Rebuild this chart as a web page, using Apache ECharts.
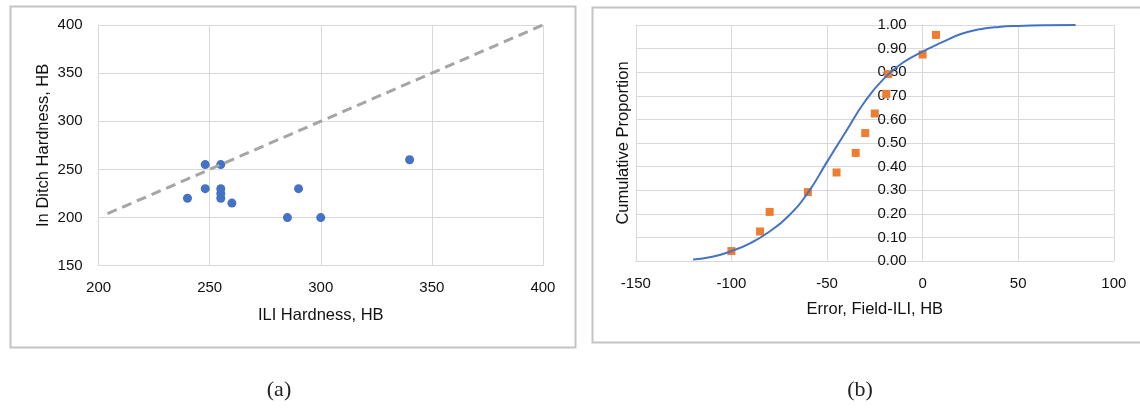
<!DOCTYPE html>
<html>
<head>
<meta charset="utf-8">
<script src="https://cdn.jsdelivr.net/npm/echarts@6/dist/echarts.min.js"></script>
<style>
html,body{margin:0;padding:0;background:#fff;}
#c{width:1140px;height:408px;}
</style>
</head>
<body>
<div id="c"></div>
<script>
// (a) scatter: ILI hardness vs in-ditch hardness
const iliHardness   = [240, 248, 255, 248, 255, 255, 255, 260, 285, 300, 290, 340];
const ditchHardness = [220, 255, 255, 230, 230, 225, 220, 215, 200, 200, 230, 260];
// 1:1 reference line
const refLineX = [204, 400];
const refLineY = [204, 400];
// (b) empirical cumulative proportion
const errorVals = [-100, -85, -80, -60, -45, -35, -30, -25, -19, -18, 0, 7];
const cumProp   = [0.042, 0.125, 0.208, 0.292, 0.375, 0.458, 0.542, 0.625, 0.708, 0.792, 0.875, 0.958];
// fitted curve
const curveX = [-120, -110, -100, -90, -80, -70, -60, -50, -40, -30, -20, -10, 0, 10, 20, 30, 40, 50, 65, 80];
const curveY = [0.006, 0.018, 0.042, 0.076, 0.125, 0.192, 0.289, 0.420, 0.550, 0.678, 0.775, 0.842, 0.887, 0.926, 0.962, 0.982, 0.992, 0.996, 0.999, 1.000];
// axis labels and captions
const leftXName = 'ILI Hardness, HB';
const leftYName = 'In Ditch Hardness, HB';
const rightXName = 'Error, Field-ILI, HB';
const rightYName = 'Cumulative Proportion';
const captions = ['(a)', '(b)'];

const zip = (a, b) => a.map((v, i) => [v, b[i]]);
const FONT = 'Liberation Sans';
const TXT = '#111';
const GRID = '#D9D9D9';

const chart = echarts.init(document.getElementById('c'), null, {renderer: 'canvas'});

// pixel position of x = 0 on the right chart (for the y-axis that crosses there)
const rLeft = 635.8, rWidth = 478, rMin = -150, rMax = 100;
const zeroX = rLeft + (0 - rMin) / (rMax - rMin) * rWidth;

chart.setOption({
  backgroundColor: '#fff',
  animation: false,
  textStyle: {fontFamily: FONT},
  grid: [
    {left: 98.6, top: 25, width: 444.3, height: 240.7},
    {left: rLeft, top: 25, width: rWidth, height: 236},
    {left: zeroX, top: 25, width: 20, height: 236}
  ],
  xAxis: [
    {
      gridIndex: 0, type: 'value', min: 200, max: 400, interval: 50,
      name: leftXName, nameLocation: 'middle', nameGap: 41,
      nameTextStyle: {fontSize: 16.5, color: TXT, fontFamily: FONT},
      axisLine: {onZero: false, lineStyle: {color: GRID}},
      axisTick: {show: false},
      axisLabel: {fontSize: 15, color: TXT, margin: 15, fontFamily: FONT},
      splitLine: {lineStyle: {color: GRID}}
    },
    {
      gridIndex: 1, type: 'value', min: rMin, max: rMax, interval: 50,
      name: rightXName, nameLocation: 'middle', nameGap: 40,
      nameTextStyle: {fontSize: 16.5, color: TXT, fontFamily: FONT},
      axisLine: {onZero: false, lineStyle: {color: GRID}},
      axisTick: {show: false},
      axisLabel: {fontSize: 15, color: TXT, margin: 15, fontFamily: FONT},
      splitLine: {lineStyle: {color: GRID}}
    },
    {
      gridIndex: 2, type: 'value', min: 0, max: 1, show: false
    }
  ],
  yAxis: [
    {
      gridIndex: 0, type: 'value', min: 150, max: 400, interval: 50,
      name: leftYName, nameLocation: 'middle', nameGap: 47,
      nameTextStyle: {fontSize: 16.5, color: TXT, fontFamily: FONT},
      axisLine: {show: true, onZero: false, lineStyle: {color: GRID}},
      axisTick: {show: false},
      axisLabel: {fontSize: 15, color: TXT, margin: 16, fontFamily: FONT},
      splitLine: {lineStyle: {color: GRID}}
    },
    {
      gridIndex: 1, type: 'value', min: 0, max: 1, interval: 0.1, position: 'left',
      name: rightYName, nameLocation: 'middle', nameGap: 4,
      nameTextStyle: {fontSize: 16.5, color: TXT, fontFamily: FONT},
      axisLine: {show: false, onZero: false},
      axisTick: {show: false},
      axisLabel: {show: false},
      splitLine: {lineStyle: {color: GRID}}
    },
    {
      gridIndex: 2, type: 'value', min: 0, max: 1, interval: 0.1, position: 'left',
      axisLine: {show: true, onZero: false, lineStyle: {color: GRID}},
      axisTick: {show: false},
      axisLabel: {fontSize: 15, color: TXT, margin: 16, fontFamily: FONT,
                  formatter: v => v.toFixed(2)},
      splitLine: {show: false}
    }
  ],
  series: [
    {
      type: 'line', xAxisIndex: 0, yAxisIndex: 0,
      data: zip(refLineX, refLineY), symbol: 'none',
      lineStyle: {color: '#A5A5A5', width: 3, type: [10, 6]}
    },
    {
      type: 'scatter', xAxisIndex: 0, yAxisIndex: 0,
      data: zip(iliHardness, ditchHardness),
      symbol: 'circle', symbolSize: 9,
      itemStyle: {color: '#4472C4', opacity: 1}
    },
    {
      type: 'line', xAxisIndex: 1, yAxisIndex: 1,
      data: zip(curveX, curveY), symbol: 'none',
      smooth: 0.5,
      lineStyle: {color: '#4472C4', width: 2}
    },
    {
      type: 'scatter', xAxisIndex: 1, yAxisIndex: 1,
      data: zip(errorVals, cumProp),
      symbol: 'rect', symbolSize: 8,
      itemStyle: {color: '#ED7D31', opacity: 1}
    }
  ],
  graphic: [
    {type: 'rect', left: 8, top: 4, shape: {x: 0, y: 0, width: 565, height: 341},
     style: {fill: null, stroke: '#C4C4C4', lineWidth: 2}, z: -10},
    {type: 'rect', left: 590, top: 5, shape: {x: 0, y: 0, width: 549, height: 335},
     style: {fill: null, stroke: '#C4C4C4', lineWidth: 2}, z: -10},
    {type: 'text', x: 279, y: 390, style: {text: captions[0], font: '22px "Liberation Serif"', fill: '#222', textAlign: 'center', textVerticalAlign: 'middle'}},
    {type: 'text', x: 860, y: 390, style: {text: captions[1], font: '22px "Liberation Serif"', fill: '#222', textAlign: 'center', textVerticalAlign: 'middle'}}
  ]
});
</script>
</body>
</html>
